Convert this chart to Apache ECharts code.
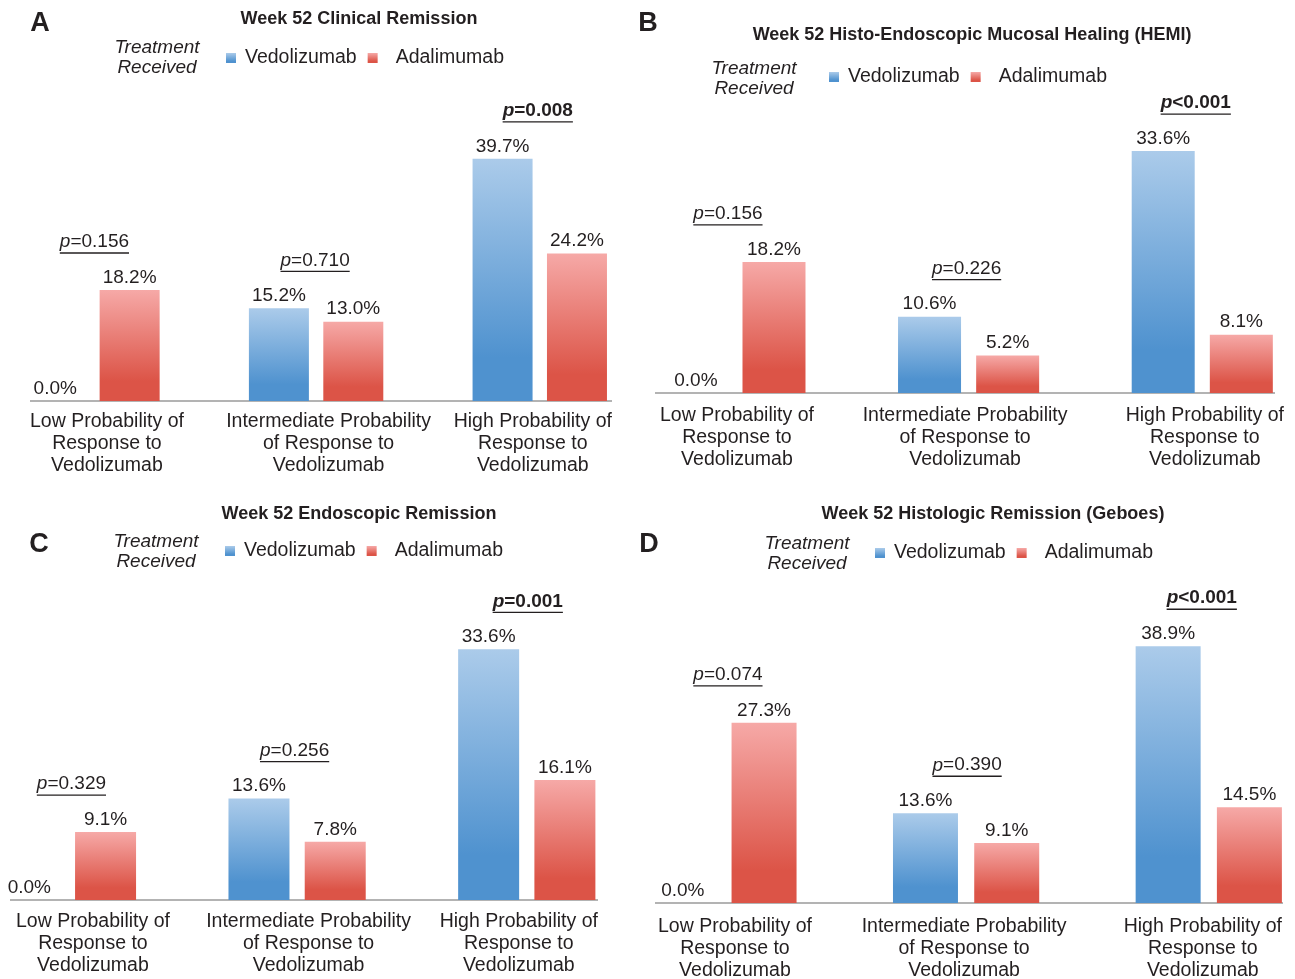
<!DOCTYPE html>
<html>
<head>
<meta charset="utf-8">
<script src="https://cdn.jsdelivr.net/npm/echarts@6/dist/echarts.min.js"></script>
<style>
html, body { margin: 0; padding: 0; background: #fff; }
#main { width: 1295px; height: 979px; }
</style>
</head>
<body>
<div id="main"></div>
<script>
// data
var categories = [
    'Low Probability of\nResponse to\nVedolizumab',
    'Intermediate Probability\nof Response to\nVedolizumab',
    'High Probability of\nResponse to\nVedolizumab'
]
var seriesNames = ['Vedolizumab', 'Adalimumab']
var panelLetters = ['A', 'B', 'C', 'D']
var panelTitles = [
    'Week 52 Clinical Remission',
    'Week 52 Histo-Endoscopic Mucosal Healing (HEMI)',
    'Week 52 Endoscopic Remission',
    'Week 52 Histologic Remission (Geboes)'
]

var vedoA = [0.0, 15.2, 39.7]
var adaA = [18.2, 13.0, 24.2]
var pA = ['=0.156', '=0.710', '=0.008']

var vedoB = [0.0, 10.6, 33.6]
var adaB = [18.2, 5.2, 8.1]
var pB = ['=0.156', '=0.226', '<0.001']

var vedoC = [0.0, 13.6, 33.6]
var adaC = [9.1, 7.8, 16.1]
var pC = ['=0.329', '=0.256', '=0.001']

var vedoD = [0.0, 13.6, 38.9]
var adaD = [27.3, 9.1, 14.5]
var pD = ['=0.074', '=0.390', '<0.001']

var vedoAll = [vedoA, vedoB, vedoC, vedoD]
var adaAll = [adaA, adaB, adaC, adaD]
var pAll = [pA, pB, pC, pD]

// layout of each panel (pixels)
var layout = [
    {gl: -19.4, gw: 671, gt: 96, gh: 305, bw: 60, gap: '24%', margin: 10, shift: [14.5, 12.5, -7], pShift: [2, -1, -2],
     ax: [30, 612], base: 401, title: [359, 19], letter: [40, 24], treat: [157, 58], legend: [226, 48]},
    {gl: 618.1, gw: 701, gt: 33, gh: 360, bw: 63, gap: '24%', margin: 12, shift: [2, -3.5, 2.5], pShift: [-7, -2, -6.5],
     ax: [655, 1275], base: 393, title: [972, 35], letter: [648, 24], treat: [754, 79], legend: [829, 67]},
    {gl: -47.4, gw: 689, gt: 527, gh: 373, bw: 61, gap: '25%', margin: 11, shift: [25.5, 11.5, -8], pShift: [4, -2.5, 1],
     ax: [10, 598], base: 900, title: [359, 514], letter: [39, 545], treat: [156, 552], legend: [225, 541]},
    {gl: 602.1, gw: 728, gt: 573, gh: 330, bw: 65, gap: '25%', margin: 13, shift: [11.5, -2, -6], pShift: [4.5, 1, -7],
     ax: [655, 1283], base: 903, title: [993, 514], letter: [649, 545], treat: [807, 554], legend: [875, 543]}
]

var FONT = '"Liberation Sans", Arial, Helvetica, sans-serif'
var TXT = '#231f20'
var YMAX = 50

var blueGrad = new echarts.graphic.LinearGradient(0, 0, 0, 1, [
    {offset: 0, color: '#abcbea'},
    {offset: 0.82, color: '#4f92cf'},
    {offset: 1, color: '#4f92cf'}
])
var redGrad = new echarts.graphic.LinearGradient(0, 0, 0, 1, [
    {offset: 0, color: '#f6a9a7'},
    {offset: 0.82, color: '#dc5447'},
    {offset: 1, color: '#dc5447'}
])

var measureCtx = document.createElement('canvas').getContext('2d')
function pWidth(rest, bold) {
    var w = bold ? 'bold ' : ''
    measureCtx.font = 'italic ' + w + '19px ' + FONT
    var a = measureCtx.measureText('p').width
    measureCtx.font = w + '19px ' + FONT
    return a + measureCtx.measureText(rest).width
}

function makePRender(pArr, pShift) {
    return function (params, api) {
        var pt = api.coord([api.value(0), api.value(1)])
        var rest = pArr[params.dataIndex]
        var bold = parseFloat(rest.slice(1)) < 0.05
        var fw = bold ? 'bold' : 'normal'
        var w = pWidth(rest, bold)
        var x = pt[0] + pShift[params.dataIndex]
        var y = pt[1] - 48
        return {
            type: 'group',
            children: [
                {
                    type: 'text',
                    x: x, y: y,
                    style: {
                        text: '{i|p}{n|' + rest + '}',
                        align: 'center',
                        verticalAlign: 'middle',
                        rich: {
                            i: {fontStyle: 'italic', fontWeight: fw, fontSize: 19, fontFamily: FONT, fill: TXT},
                            n: {fontWeight: fw, fontSize: 19, fontFamily: FONT, fill: TXT}
                        }
                    }
                },
                {
                    type: 'line',
                    shape: {x1: x - w / 2, y1: y + 11, x2: x + w / 2, y2: y + 11},
                    style: {stroke: TXT, lineWidth: 1.3}
                }
            ]
        }
    }
}

var grids = [], xAxes = [], yAxes = [], series = [], legends = [], graphics = []

layout.forEach(function (L, k) {
    grids.push({left: L.gl, top: L.gt, width: L.gw, height: L.gh, outerBoundsMode: 'none', containLabel: false})

    var rich = {}
    L.shift.forEach(function (s, i) {
        rich['c' + i] = {
            fontSize: 19.5, fontFamily: FONT, color: TXT, lineHeight: 22,
            padding: s >= 0 ? [0, 0, 0, 2 * s] : [0, -2 * s, 0, 0]
        }
    })
    xAxes.push({
        type: 'category',
        gridIndex: k,
        data: categories,
        axisLine: {show: false},
        axisTick: {show: false},
        axisLabel: {
            margin: L.margin,
            interval: 0,
            hideOverlap: false,
            formatter: function (value, index) {
                return value.split('\n').map(function (l) {
                    return '{c' + index + '|' + l + '}'
                }).join('\n')
            },
            rich: rich
        }
    })
    yAxes.push({type: 'value', gridIndex: k, min: 0, max: YMAX, show: false})

    var lbl = {
        show: true,
        position: 'top',
        distance: 3,
        fontSize: 19,
        fontFamily: FONT,
        color: TXT,
        formatter: function (p) { return p.value.toFixed(1) + '%' }
    }
    series.push({
        name: seriesNames[0], type: 'bar', xAxisIndex: k, yAxisIndex: k,
        barWidth: L.bw, barGap: L.gap, data: vedoAll[k],
        itemStyle: {color: blueGrad}, label: lbl
    })
    series.push({
        name: seriesNames[1], type: 'bar', xAxisIndex: k, yAxisIndex: k,
        barWidth: L.bw, barGap: L.gap, data: adaAll[k],
        itemStyle: {color: redGrad}, label: lbl
    })
    // p-value annotations, sitting above the taller bar of each group
    series.push({
        name: 'p' + k, type: 'custom', xAxisIndex: k, yAxisIndex: k,
        clip: false, z: 10,
        renderItem: makePRender(pAll[k], L.pShift),
        data: categories.map(function (c, i) {
            return [i, Math.max(vedoAll[k][i], adaAll[k][i])]
        })
    })

    legends.push({
        left: L.legend[0], top: L.legend[1],
        padding: 0,
        itemWidth: 10, itemHeight: 10, itemGap: 11,
        icon: 'rect',
        selectedMode: false,
        textStyle: {fontSize: 19.5, fontFamily: FONT, color: TXT},
        data: [
            {name: seriesNames[0], textStyle: {padding: [0, 0, 0, 4]}},
            {name: seriesNames[1], textStyle: {padding: [0, 0, 0, 13]}}
        ]
    })

    graphics.push({
        type: 'line',
        shape: {x1: L.ax[0], y1: L.base, x2: L.ax[1], y2: L.base},
        style: {stroke: '#9a9a9a', lineWidth: 1.5},
        z: 0
    })
    graphics.push({
        type: 'text', x: L.title[0], y: L.title[1],
        style: {text: panelTitles[k], align: 'center', verticalAlign: 'middle',
                font: 'bold 18px ' + FONT, fill: TXT}
    })
    graphics.push({
        type: 'text', x: L.letter[0], y: L.letter[1],
        style: {text: panelLetters[k], align: 'center', verticalAlign: 'middle',
                font: 'bold 27px ' + FONT, fill: TXT}
    })
    graphics.push({
        type: 'text', x: L.treat[0], y: L.treat[1],
        style: {text: 'Treatment\nReceived', align: 'center', verticalAlign: 'middle',
                font: 'italic 19px ' + FONT, fill: TXT, lineHeight: 20}
    })
})

var chart = echarts.init(document.getElementById('main'))
chart.setOption({
    animation: false,
    backgroundColor: '#fff',
    grid: grids,
    xAxis: xAxes,
    yAxis: yAxes,
    legend: legends,
    series: series,
    graphic: graphics
})
</script>
</body>
</html>
